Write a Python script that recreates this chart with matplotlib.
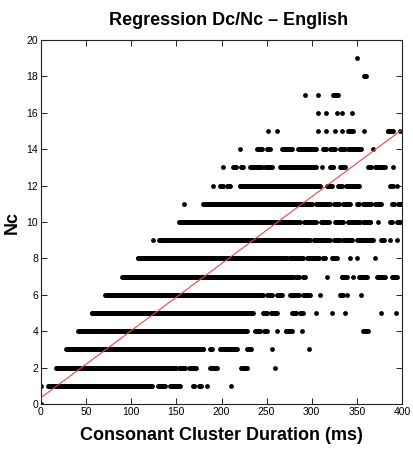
import numpy as np
import matplotlib
matplotlib.use("Agg")
import matplotlib.pyplot as plt

plt.rcParams["font.family"] = ["Liberation Sans", "DejaVu Sans"]

# duration runs (ms) observed for each cluster size Nc = 0..19
nc_values = list(range(20))
runs = [
    [(0, 0)],
    [(0, 0), (8, 123), (130, 137), (143, 154), (168, 170), (175, 177), (184, 184), (210, 210)],
    [(17, 150), (153, 160), (164, 172), (187, 189), (192, 195), (222, 228), (259, 259)],
    [(28, 180), (187, 189), (198, 217), (228, 233), (256, 256), (297, 297)],
    [(41, 228), (237, 243), (247, 250), (261, 261), (271, 278), (289, 289), (357, 362)],
    [(56, 235), (246, 250), (255, 261), (278, 282), (287, 290), (305, 305), (322, 322),
     (337, 337), (377, 377), (393, 393)],
    [(71, 246), (250, 256), (262, 267), (276, 286), (290, 298), (309, 309), (331, 335),
     (339, 339), (355, 355)],
    [(90, 279), (282, 286), (290, 292), (317, 317), (333, 339), (346, 346), (352, 361),
     (372, 381), (389, 394)],
    [(107, 272), (275, 290), (295, 308), (312, 315), (322, 328), (342, 342), (350, 350),
     (370, 370)],
    [(124, 124), (131, 135), (137, 298), (302, 320), (325, 331), (335, 345), (350, 368),
     (377, 380), (387, 387), (394, 394)],
    [(153, 287), (291, 305), (310, 319), (326, 335), (340, 353), (357, 365), (373, 373),
     (387, 389), (395, 398)],
    [(158, 158), (180, 300), (305, 320), (325, 330), (335, 342), (350, 352), (357, 366),
     (370, 377), (389, 391), (396, 400)],
    [(191, 191), (198, 202), (206, 209), (220, 309), (317, 322), (329, 333), (338, 352),
     (387, 390), (394, 394)],
    [(202, 202), (213, 216), (222, 224), (232, 245), (248, 256), (265, 305), (311, 311),
     (320, 324), (331, 337), (362, 366), (370, 381), (390, 390)],
    [(221, 221), (239, 245), (250, 254), (267, 278), (285, 305), (313, 316), (320, 326),
     (331, 337), (340, 355), (368, 368)],
    [(251, 251), (262, 262), (307, 307), (316, 316), (326, 326), (333, 333), (340, 346),
     (358, 358), (384, 390), (398, 398)],
    [(307, 307), (316, 316), (328, 328), (334, 334), (345, 345)],
    [(292, 292), (307, 307), (324, 329)],
    [(358, 360)],
    [(350, 350)],
]

reg_intercept = 0.35
reg_slope = 0.0368

xs = []
ys = []
for nc, row in zip(nc_values, runs):
    for a, b in row:
        d = np.arange(a, b + 1)
        xs.extend(d)
        ys.extend([nc] * len(d))

fig = plt.figure(figsize=(4.13, 4.58), dpi=100)
ax = fig.add_axes([41 / 413, 54 / 458, 361 / 413, 364 / 458])

ax.scatter(xs, ys, s=12, c="black", linewidths=0, zorder=2)

lx = np.array([0, 400])
ax.plot(lx, reg_intercept + reg_slope * lx, color="#e8474a", lw=0.8, zorder=3)

ax.set_xlim(0, 400)
ax.set_ylim(0, 20)
ax.set_xticks(range(0, 401, 50))
ax.set_yticks(range(0, 21, 2))
ax.tick_params(direction="in", top=True, right=True, length=4, width=0.6,
               labelsize=7.5, pad=2)
for s in ax.spines.values():
    s.set_linewidth(0.8)
    s.set_color("#222222")

ax.set_title("Regression Dc/Nc \u2013 English", fontsize=13, fontweight="bold",
             pad=11, x=0.52)
ax.set_xlabel("Consonant Cluster Duration (ms)", fontsize=13, fontweight="bold", labelpad=7)
ax.set_ylabel("Nc", fontsize=13, fontweight="bold", labelpad=4)

fig.savefig("out.png", dpi=100)
